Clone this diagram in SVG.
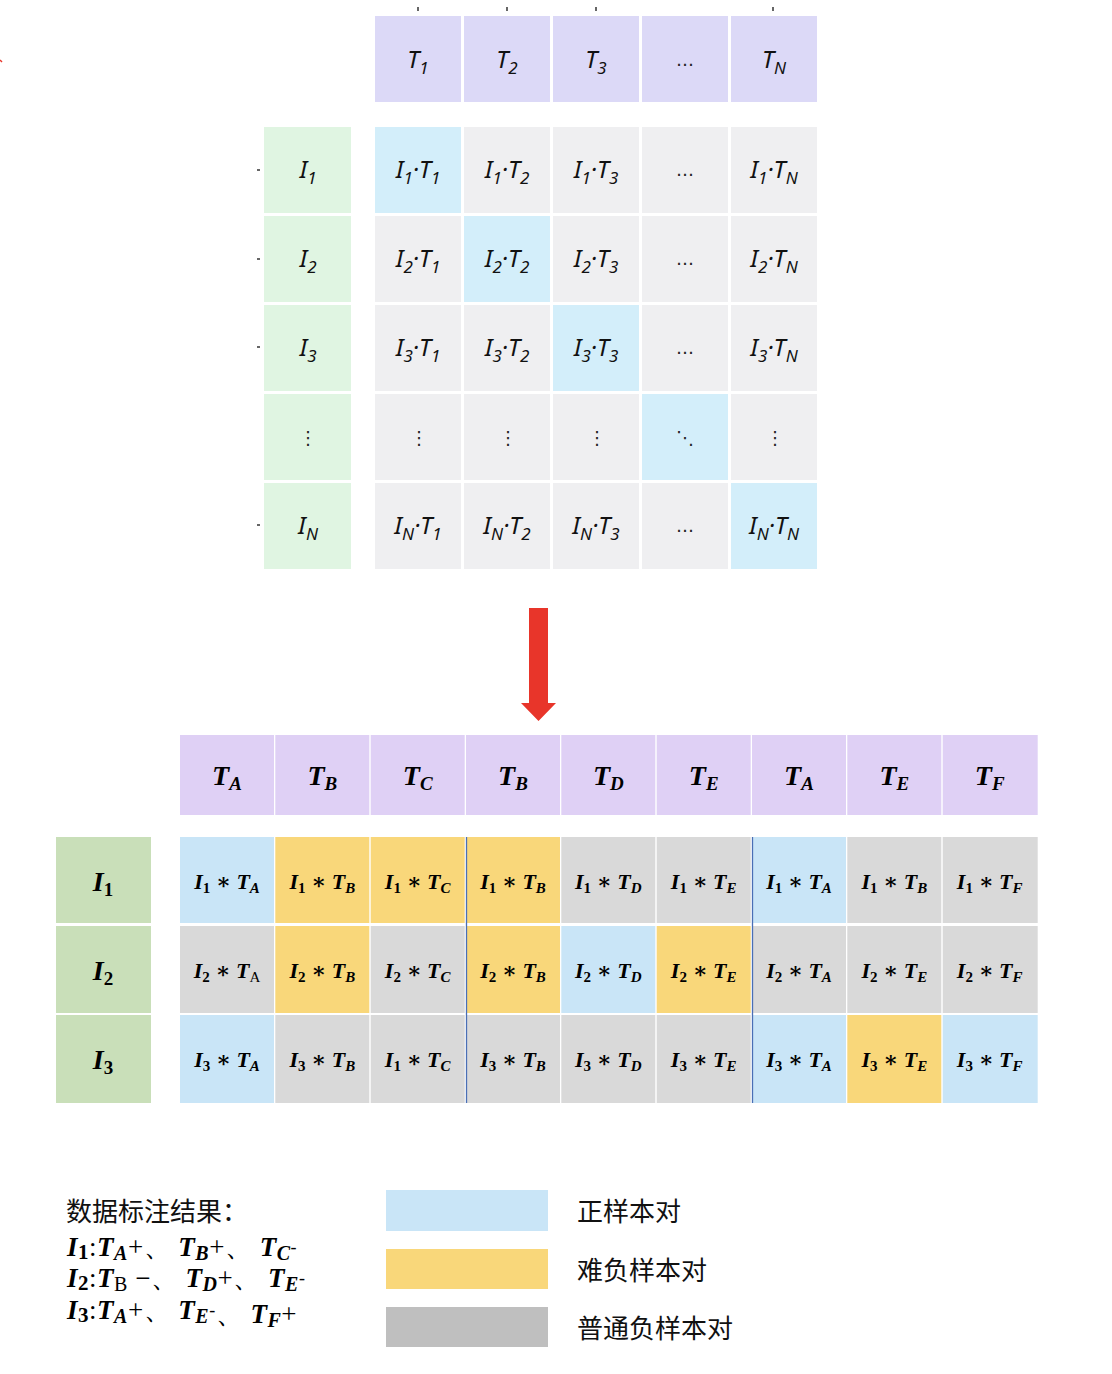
<svg xmlns="http://www.w3.org/2000/svg" width="1112" height="1374" viewBox="0 0 1112 1374">
<style>
.th{fill:#dcd9f7}
.lg{fill:#e0f5e2}
.dg{fill:#d3eefa}
.gr{fill:#efeff1}
.mt{font-family:"Noto Sans","DejaVu Sans",sans-serif;font-style:italic;font-size:24px;fill:#111;text-anchor:middle}
.ms{font-size:17px}
.el{font-family:"DejaVu Sans",sans-serif;font-style:normal;font-size:18px;fill:#222;text-anchor:middle}
.bh{fill:#dfd0f5}
.bl{fill:#c9dfb9}
.cb{fill:#c9e5f7}
.cy{fill:#f9d77a}
.cg{fill:#d9d9d9}
.bt{font-family:"Liberation Serif","DejaVu Serif",serif;font-weight:bold;font-style:italic;fill:#000;text-anchor:middle}
.h{font-size:28px}
.c{font-size:22px}
.hs{font-size:19px}
.cs{font-size:15px}
.n{font-style:normal}
.r{font-style:normal;font-weight:normal}
.cjk{font-family:"Noto Sans CJK SC","Noto Sans",sans-serif;font-size:26px;fill:#111}
.leg{font-family:"Liberation Serif","DejaVu Serif",serif;font-weight:bold;font-style:italic;font-size:27px;fill:#000;letter-spacing:0.5px}
.tk{stroke:#333;stroke-width:1.5}
</style>

<g id="ticks">
<line class="tk" x1="418" y1="7" x2="418" y2="11"/>
<line class="tk" x1="507" y1="7" x2="507" y2="11"/>
<line class="tk" x1="596" y1="7" x2="596" y2="11"/>
<line class="tk" x1="773" y1="7" x2="773" y2="11"/>
<line class="tk" x1="257" y1="170" x2="260" y2="170"/>
<line class="tk" x1="257" y1="259" x2="260" y2="259"/>
<line class="tk" x1="257" y1="347" x2="260" y2="347"/>
<line class="tk" x1="257" y1="525" x2="260" y2="525"/>
<line x1="0" y1="60" x2="2" y2="62" stroke="#e8352a" stroke-width="1.5"/>
</g>

<g id="top-header">
<rect class="th" x="375" y="16" width="86" height="86"/>
<rect class="th" x="464" y="16" width="86" height="86"/>
<rect class="th" x="553" y="16" width="86" height="86"/>
<rect class="th" x="642" y="16" width="86" height="86"/>
<rect class="th" x="731" y="16" width="86" height="86"/>
<text class="mt" x="418" y="68">T<tspan class="ms" dy="6">1</tspan></text>
<text class="mt" x="507" y="68">T<tspan class="ms" dy="6">2</tspan></text>
<text class="mt" x="596" y="68">T<tspan class="ms" dy="6">3</tspan></text>
<text class="el" x="685" y="66">…</text>
<text class="mt" x="774" y="68">T<tspan class="ms" dy="6">N</tspan></text>
</g>

<g id="top-left">
<rect class="lg" x="264" y="127" width="87" height="86"/>
<rect class="lg" x="264" y="216" width="87" height="86"/>
<rect class="lg" x="264" y="305" width="87" height="86"/>
<rect class="lg" x="264" y="394" width="87" height="86"/>
<rect class="lg" x="264" y="483" width="87" height="86"/>
<text class="mt" x="308" y="178">I<tspan class="ms" dy="6">1</tspan></text>
<text class="mt" x="308" y="267">I<tspan class="ms" dy="6">2</tspan></text>
<text class="mt" x="308" y="356">I<tspan class="ms" dy="6">3</tspan></text>
<text class="el" x="308" y="444">⋮</text>
<text class="mt" x="308" y="534">I<tspan class="ms" dy="6">N</tspan></text>
</g>

<g id="top-matrix">
<rect class="dg" x="375" y="127" width="86" height="86"/>
<rect class="gr" x="464" y="127" width="86" height="86"/>
<rect class="gr" x="553" y="127" width="86" height="86"/>
<rect class="gr" x="642" y="127" width="86" height="86"/>
<rect class="gr" x="731" y="127" width="86" height="86"/>
<rect class="gr" x="375" y="216" width="86" height="86"/>
<rect class="dg" x="464" y="216" width="86" height="86"/>
<rect class="gr" x="553" y="216" width="86" height="86"/>
<rect class="gr" x="642" y="216" width="86" height="86"/>
<rect class="gr" x="731" y="216" width="86" height="86"/>
<rect class="gr" x="375" y="305" width="86" height="86"/>
<rect class="gr" x="464" y="305" width="86" height="86"/>
<rect class="dg" x="553" y="305" width="86" height="86"/>
<rect class="gr" x="642" y="305" width="86" height="86"/>
<rect class="gr" x="731" y="305" width="86" height="86"/>
<rect class="gr" x="375" y="394" width="86" height="86"/>
<rect class="gr" x="464" y="394" width="86" height="86"/>
<rect class="gr" x="553" y="394" width="86" height="86"/>
<rect class="dg" x="642" y="394" width="86" height="86"/>
<rect class="gr" x="731" y="394" width="86" height="86"/>
<rect class="gr" x="375" y="483" width="86" height="86"/>
<rect class="gr" x="464" y="483" width="86" height="86"/>
<rect class="gr" x="553" y="483" width="86" height="86"/>
<rect class="gr" x="642" y="483" width="86" height="86"/>
<rect class="dg" x="731" y="483" width="86" height="86"/>

<text class="mt" x="418" y="178">I<tspan class="ms" dy="6">1</tspan><tspan dy="-6">·T</tspan><tspan class="ms" dy="6">1</tspan></text>
<text class="mt" x="507" y="178">I<tspan class="ms" dy="6">1</tspan><tspan dy="-6">·T</tspan><tspan class="ms" dy="6">2</tspan></text>
<text class="mt" x="596" y="178">I<tspan class="ms" dy="6">1</tspan><tspan dy="-6">·T</tspan><tspan class="ms" dy="6">3</tspan></text>
<text class="el" x="685" y="176">…</text>
<text class="mt" x="774" y="178">I<tspan class="ms" dy="6">1</tspan><tspan dy="-6">·T</tspan><tspan class="ms" dy="6">N</tspan></text>

<text class="mt" x="418" y="267">I<tspan class="ms" dy="6">2</tspan><tspan dy="-6">·T</tspan><tspan class="ms" dy="6">1</tspan></text>
<text class="mt" x="507" y="267">I<tspan class="ms" dy="6">2</tspan><tspan dy="-6">·T</tspan><tspan class="ms" dy="6">2</tspan></text>
<text class="mt" x="596" y="267">I<tspan class="ms" dy="6">2</tspan><tspan dy="-6">·T</tspan><tspan class="ms" dy="6">3</tspan></text>
<text class="el" x="685" y="265">…</text>
<text class="mt" x="774" y="267">I<tspan class="ms" dy="6">2</tspan><tspan dy="-6">·T</tspan><tspan class="ms" dy="6">N</tspan></text>

<text class="mt" x="418" y="356">I<tspan class="ms" dy="6">3</tspan><tspan dy="-6">·T</tspan><tspan class="ms" dy="6">1</tspan></text>
<text class="mt" x="507" y="356">I<tspan class="ms" dy="6">3</tspan><tspan dy="-6">·T</tspan><tspan class="ms" dy="6">2</tspan></text>
<text class="mt" x="596" y="356">I<tspan class="ms" dy="6">3</tspan><tspan dy="-6">·T</tspan><tspan class="ms" dy="6">3</tspan></text>
<text class="el" x="685" y="354">…</text>
<text class="mt" x="774" y="356">I<tspan class="ms" dy="6">3</tspan><tspan dy="-6">·T</tspan><tspan class="ms" dy="6">N</tspan></text>

<text class="el" x="419" y="444">⋮</text>
<text class="el" x="508" y="444">⋮</text>
<text class="el" x="597" y="444">⋮</text>
<text class="el" x="685" y="444">⋱</text>
<text class="el" x="775" y="444">⋮</text>

<text class="mt" x="418" y="534">I<tspan class="ms" dy="6">N</tspan><tspan dy="-6">·T</tspan><tspan class="ms" dy="6">1</tspan></text>
<text class="mt" x="507" y="534">I<tspan class="ms" dy="6">N</tspan><tspan dy="-6">·T</tspan><tspan class="ms" dy="6">2</tspan></text>
<text class="mt" x="596" y="534">I<tspan class="ms" dy="6">N</tspan><tspan dy="-6">·T</tspan><tspan class="ms" dy="6">3</tspan></text>
<text class="el" x="685" y="532">…</text>
<text class="mt" x="774" y="534">I<tspan class="ms" dy="6">N</tspan><tspan dy="-6">·T</tspan><tspan class="ms" dy="6">N</tspan></text>
</g>

<g id="connectors">
<polygon points="529,608 548,608 548,703 556,703 538.5,721 521,703 529,703" fill="#e8352a"/>
</g>

<g id="bottom-header">
<rect class="bh" x="180" y="735" width="94" height="80"/>
<rect class="bh" x="275.3" y="735" width="94" height="80"/>
<rect class="bh" x="370.7" y="735" width="94" height="80"/>
<rect class="bh" x="466" y="735" width="94" height="80"/>
<rect class="bh" x="561.3" y="735" width="94" height="80"/>
<rect class="bh" x="656.7" y="735" width="94" height="80"/>
<rect class="bh" x="752" y="735" width="94" height="80"/>
<rect class="bh" x="847.3" y="735" width="94" height="80"/>
<rect class="bh" x="942.7" y="735" width="95" height="80"/>
<text class="bt h" x="227" y="785">T<tspan class="hs" dy="5">A</tspan></text>
<text class="bt h" x="322.3" y="785">T<tspan class="hs" dy="5">B</tspan></text>
<text class="bt h" x="417.7" y="785">T<tspan class="hs" dy="5">C</tspan></text>
<text class="bt h" x="513" y="785">T<tspan class="hs" dy="5">B</tspan></text>
<text class="bt h" x="608.3" y="785">T<tspan class="hs" dy="5">D</tspan></text>
<text class="bt h" x="703.7" y="785">T<tspan class="hs" dy="5">E</tspan></text>
<text class="bt h" x="799" y="785">T<tspan class="hs" dy="5">A</tspan></text>
<text class="bt h" x="894.3" y="785">T<tspan class="hs" dy="5">E</tspan></text>
<text class="bt h" x="989.7" y="785">T<tspan class="hs" dy="5">F</tspan></text>
</g>

<g id="bottom-left">
<rect class="bl" x="56" y="837" width="95" height="86"/>
<rect class="bl" x="56" y="926" width="95" height="87"/>
<rect class="bl" x="56" y="1015" width="95" height="88"/>
<text class="bt h" x="103" y="891">I<tspan class="hs n" dy="5">1</tspan></text>
<text class="bt h" x="103" y="980">I<tspan class="hs n" dy="5">2</tspan></text>
<text class="bt h" x="103" y="1069">I<tspan class="hs n" dy="5">3</tspan></text>
</g>

<g id="bottom-matrix">
<rect class="cb" x="180" y="837" width="94" height="86"/>
<rect class="cy" x="275.3" y="837" width="94" height="86"/>
<rect class="cy" x="370.7" y="837" width="94" height="86"/>
<rect class="cy" x="466" y="837" width="94" height="86"/>
<rect class="cg" x="561.3" y="837" width="94" height="86"/>
<rect class="cg" x="656.7" y="837" width="94" height="86"/>
<rect class="cb" x="752" y="837" width="94" height="86"/>
<rect class="cg" x="847.3" y="837" width="94" height="86"/>
<rect class="cg" x="942.7" y="837" width="95" height="86"/>

<rect class="cg" x="180" y="926" width="94" height="87"/>
<rect class="cy" x="275.3" y="926" width="94" height="87"/>
<rect class="cg" x="370.7" y="926" width="94" height="87"/>
<rect class="cy" x="466" y="926" width="94" height="87"/>
<rect class="cb" x="561.3" y="926" width="94" height="87"/>
<rect class="cy" x="656.7" y="926" width="94" height="87"/>
<rect class="cg" x="752" y="926" width="94" height="87"/>
<rect class="cg" x="847.3" y="926" width="94" height="87"/>
<rect class="cg" x="942.7" y="926" width="95" height="87"/>

<rect class="cb" x="180" y="1015" width="94" height="88"/>
<rect class="cg" x="275.3" y="1015" width="94" height="88"/>
<rect class="cg" x="370.7" y="1015" width="94" height="88"/>
<rect class="cg" x="466" y="1015" width="94" height="88"/>
<rect class="cg" x="561.3" y="1015" width="94" height="88"/>
<rect class="cg" x="656.7" y="1015" width="94" height="88"/>
<rect class="cb" x="752" y="1015" width="94" height="88"/>
<rect class="cy" x="847.3" y="1015" width="94" height="88"/>
<rect class="cb" x="942.7" y="1015" width="95" height="88"/>

<line x1="466.5" y1="837" x2="466.5" y2="1103" stroke="#4a6fb5" stroke-width="1.3"/>
<line x1="752.5" y1="837" x2="752.5" y2="1103" stroke="#4a6fb5" stroke-width="1.3"/>

<text class="bt c" x="227" y="889">I<tspan class="cs n" dy="4">1</tspan><tspan class="n" dy="-4"> ∗ </tspan>T<tspan class="cs" dy="4">A</tspan></text>
<text class="bt c" x="322.3" y="889">I<tspan class="cs n" dy="4">1</tspan><tspan class="n" dy="-4"> ∗ </tspan>T<tspan class="cs" dy="4">B</tspan></text>
<text class="bt c" x="417.7" y="889">I<tspan class="cs n" dy="4">1</tspan><tspan class="n" dy="-4"> ∗ </tspan>T<tspan class="cs" dy="4">C</tspan></text>
<text class="bt c" x="513" y="889">I<tspan class="cs n" dy="4">1</tspan><tspan class="n" dy="-4"> ∗ </tspan>T<tspan class="cs" dy="4">B</tspan></text>
<text class="bt c" x="608.3" y="889">I<tspan class="cs n" dy="4">1</tspan><tspan class="n" dy="-4"> ∗ </tspan>T<tspan class="cs" dy="4">D</tspan></text>
<text class="bt c" x="703.7" y="889">I<tspan class="cs n" dy="4">1</tspan><tspan class="n" dy="-4"> ∗ </tspan>T<tspan class="cs" dy="4">E</tspan></text>
<text class="bt c" x="799" y="889">I<tspan class="cs n" dy="4">1</tspan><tspan class="n" dy="-4"> ∗ </tspan>T<tspan class="cs" dy="4">A</tspan></text>
<text class="bt c" x="894.3" y="889">I<tspan class="cs n" dy="4">1</tspan><tspan class="n" dy="-4"> ∗ </tspan>T<tspan class="cs" dy="4">B</tspan></text>
<text class="bt c" x="989.7" y="889">I<tspan class="cs n" dy="4">1</tspan><tspan class="n" dy="-4"> ∗ </tspan>T<tspan class="cs" dy="4">F</tspan></text>

<text class="bt c" x="227" y="978">I<tspan class="cs n" dy="4">2</tspan><tspan class="n" dy="-4"> ∗ </tspan>T<tspan class="cs r" dy="4">A</tspan></text>
<text class="bt c" x="322.3" y="978">I<tspan class="cs n" dy="4">2</tspan><tspan class="n" dy="-4"> ∗ </tspan>T<tspan class="cs" dy="4">B</tspan></text>
<text class="bt c" x="417.7" y="978">I<tspan class="cs n" dy="4">2</tspan><tspan class="n" dy="-4"> ∗ </tspan>T<tspan class="cs" dy="4">C</tspan></text>
<text class="bt c" x="513" y="978">I<tspan class="cs n" dy="4">2</tspan><tspan class="n" dy="-4"> ∗ </tspan>T<tspan class="cs" dy="4">B</tspan></text>
<text class="bt c" x="608.3" y="978">I<tspan class="cs n" dy="4">2</tspan><tspan class="n" dy="-4"> ∗ </tspan>T<tspan class="cs" dy="4">D</tspan></text>
<text class="bt c" x="703.7" y="978">I<tspan class="cs n" dy="4">2</tspan><tspan class="n" dy="-4"> ∗ </tspan>T<tspan class="cs" dy="4">E</tspan></text>
<text class="bt c" x="799" y="978">I<tspan class="cs n" dy="4">2</tspan><tspan class="n" dy="-4"> ∗ </tspan>T<tspan class="cs" dy="4">A</tspan></text>
<text class="bt c" x="894.3" y="978">I<tspan class="cs n" dy="4">2</tspan><tspan class="n" dy="-4"> ∗ </tspan>T<tspan class="cs" dy="4">E</tspan></text>
<text class="bt c" x="989.7" y="978">I<tspan class="cs n" dy="4">2</tspan><tspan class="n" dy="-4"> ∗ </tspan>T<tspan class="cs" dy="4">F</tspan></text>

<text class="bt c" x="227" y="1067">I<tspan class="cs n" dy="4">3</tspan><tspan class="n" dy="-4"> ∗ </tspan>T<tspan class="cs" dy="4">A</tspan></text>
<text class="bt c" x="322.3" y="1067">I<tspan class="cs n" dy="4">3</tspan><tspan class="n" dy="-4"> ∗ </tspan>T<tspan class="cs" dy="4">B</tspan></text>
<text class="bt c" x="417.7" y="1067">I<tspan class="cs n" dy="4">1</tspan><tspan class="n" dy="-4"> ∗ </tspan>T<tspan class="cs" dy="4">C</tspan></text>
<text class="bt c" x="513" y="1067">I<tspan class="cs n" dy="4">3</tspan><tspan class="n" dy="-4"> ∗ </tspan>T<tspan class="cs" dy="4">B</tspan></text>
<text class="bt c" x="608.3" y="1067">I<tspan class="cs n" dy="4">3</tspan><tspan class="n" dy="-4"> ∗ </tspan>T<tspan class="cs" dy="4">D</tspan></text>
<text class="bt c" x="703.7" y="1067">I<tspan class="cs n" dy="4">3</tspan><tspan class="n" dy="-4"> ∗ </tspan>T<tspan class="cs" dy="4">E</tspan></text>
<text class="bt c" x="799" y="1067">I<tspan class="cs n" dy="4">3</tspan><tspan class="n" dy="-4"> ∗ </tspan>T<tspan class="cs" dy="4">A</tspan></text>
<text class="bt c" x="894.3" y="1067">I<tspan class="cs n" dy="4">3</tspan><tspan class="n" dy="-4"> ∗ </tspan>T<tspan class="cs" dy="4">E</tspan></text>
<text class="bt c" x="989.7" y="1067">I<tspan class="cs n" dy="4">3</tspan><tspan class="n" dy="-4"> ∗ </tspan>T<tspan class="cs" dy="4">F</tspan></text>
</g>

<g id="annotation">
<text class="cjk" x="66" y="1221">数据标注结果：</text>
<text class="leg" x="67" y="1256">I<tspan class="n" font-size="21" dy="3">1</tspan><tspan class="r" dy="-3">:</tspan>T<tspan font-size="20" dy="4">A</tspan><tspan class="r" dy="-4">+、 </tspan>T<tspan font-size="20" dy="4">B</tspan><tspan class="r" dy="-4">+、 </tspan>T<tspan font-size="20" dy="4">C</tspan><tspan class="r" font-size="18" dy="-7">-</tspan></text>
<text class="leg" x="67" y="1287">I<tspan class="n" font-size="21" dy="3">2</tspan><tspan class="r" dy="-3">:</tspan>T<tspan class="r" font-size="20" dy="4">B</tspan><tspan class="r" dy="-4"> −、 </tspan>T<tspan font-size="20" dy="4">D</tspan><tspan class="r" dy="-4">+、 </tspan>T<tspan font-size="20" dy="4">E</tspan><tspan class="r" font-size="18" dy="-7">-</tspan></text>
<text class="leg" x="67" y="1319">I<tspan class="n" font-size="21" dy="3">3</tspan><tspan class="r" dy="-3">:</tspan>T<tspan font-size="20" dy="4">A</tspan><tspan class="r" dy="-4">+、 </tspan>T<tspan font-size="20" dy="4">E</tspan><tspan class="r" font-size="18" dy="-7">-</tspan><tspan class="r" dy="7">、 </tspan>T<tspan font-size="20" dy="4">F</tspan><tspan class="r" dy="-4">+</tspan></text>
</g>

<g id="legend">
<rect x="386" y="1190" width="162" height="41" fill="#c9e5f7"/>
<rect x="386" y="1249" width="162" height="40" fill="#f9d77a"/>
<rect x="386" y="1307" width="162" height="40" fill="#bfbfbf"/>
<text class="cjk" x="577" y="1221">正样本对</text>
<text class="cjk" x="577" y="1280">难负样本对</text>
<text class="cjk" x="577" y="1338">普通负样本对</text>
</g>
</svg>
